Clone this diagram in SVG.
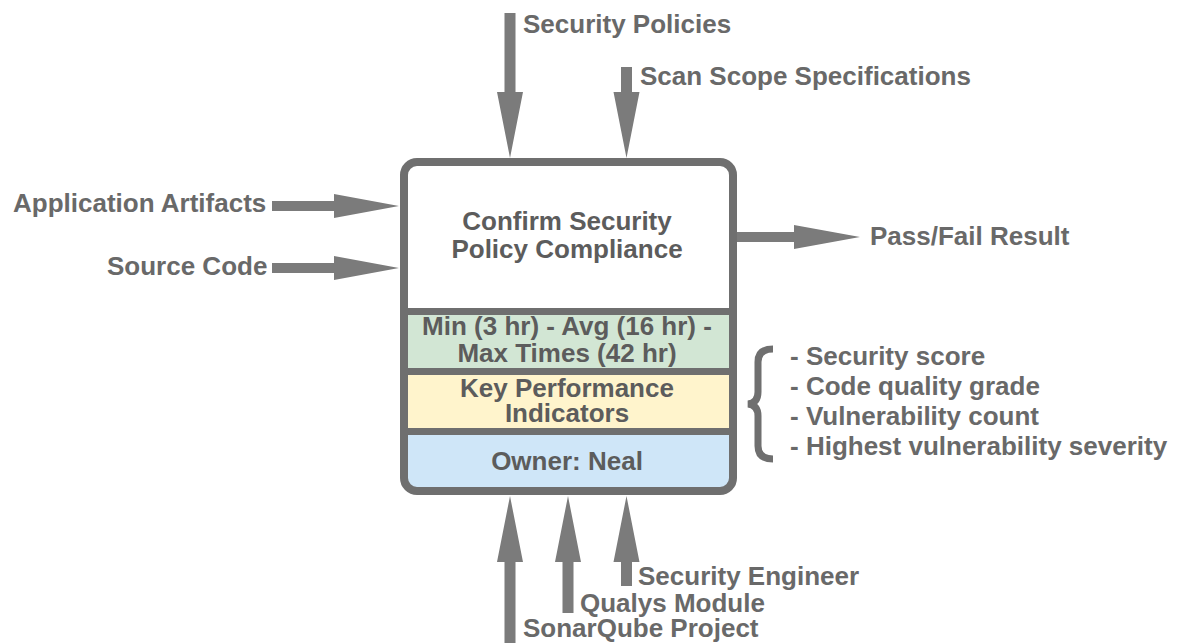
<svg xmlns="http://www.w3.org/2000/svg" width="1184" height="643" viewBox="0 0 1184 643">
<defs>
<style>
.lbl{font-family:"Liberation Sans",Arial,sans-serif;font-weight:bold;font-size:26px;fill:#696969}
.in{font-family:"Liberation Sans",Arial,sans-serif;font-weight:bold;font-size:26px;fill:#5c5c5c;text-anchor:middle}
.arr{fill:#7b7b7b}
.sep{stroke:#6f6f6f;stroke-width:7}
</style>
<clipPath id="inner"><rect x="404" y="162" width="329" height="329" rx="13"/></clipPath>
</defs>
<rect width="1184" height="643" fill="#ffffff"/>
<g id="connectors">
<polygon class="arr" points="504.5,13 515.5,13 515.5,92 523,92 510,158 497,92 504.5,92"/>
<polygon class="arr" points="621,67 632,67 632,92 639.5,92 626.5,158 613.5,92 621,92"/>
<polygon class="arr" points="272,201 334,201 334,194 399,206 334,218 334,211 272,211"/>
<polygon class="arr" points="272,263 334,263 334,256 399,268 334,280 334,273 272,273"/>
<polygon class="arr" points="737,232 794,232 794,225 860,237 794,249 794,242 737,242"/>
<polygon class="arr" points="504.5,643 515.5,643 515.5,562 523,562 510,496 497,562 504.5,562"/>
<polygon class="arr" points="562.5,613 573.5,613 573.5,562 581,562 568,496 555,562 562.5,562"/>
<polygon class="arr" points="621,586 632,586 632,562 639.5,562 626.5,496 613.5,562 621,562"/>
</g>
<g id="process">
<rect x="404" y="162" width="329" height="329" rx="13" fill="#ffffff"/>
<g clip-path="url(#inner)">
<rect x="400" y="311" width="340" height="61" fill="#d2e6d4"/>
<rect x="400" y="372" width="340" height="60" fill="#fff4cc"/>
<rect x="400" y="432" width="340" height="65" fill="#cfe6f8"/>
</g>
<line class="sep" x1="404" y1="311.5" x2="733" y2="311.5"/>
<line class="sep" x1="404" y1="371.5" x2="733" y2="371.5"/>
<line class="sep" x1="404" y1="431.5" x2="733" y2="431.5"/>
<rect x="404" y="162" width="329" height="329" rx="13" fill="none" stroke="#6f6f6f" stroke-width="8"/>
<text class="in" x="567" y="230">Confirm Security</text>
<text class="in" x="567" y="258">Policy Compliance</text>
<text class="in" x="567" y="335">Min (3 hr) - Avg (16 hr) -</text>
<text class="in" x="567" y="362">Max Times (42 hr)</text>
<text class="in" x="567" y="397">Key Performance</text>
<text class="in" x="567" y="422">Indicators</text>
<text class="in" x="567" y="470">Owner: Neal</text>
</g>
<g id="label-security-policies"><text class="lbl" x="523" y="33">Security Policies</text></g>
<g id="label-scan-scope"><text class="lbl" x="640" y="85">Scan Scope Specifications</text></g>
<g id="label-app-artifacts"><text class="lbl" x="13" y="212">Application Artifacts</text></g>
<g id="label-source-code"><text class="lbl" x="107" y="275">Source Code</text></g>
<g id="label-pass-fail"><text class="lbl" x="870" y="245">Pass/Fail Result</text></g>
<g id="kpi-list">
<path d="M773,349 Q758,349 758,362 L758,392 Q758,403 748,404 Q758,405 758,416 L758,446 Q758,459 773,459" fill="none" stroke="#6f6f6f" stroke-width="7"/>
<text class="lbl" x="790" y="365">- Security score</text>
<text class="lbl" x="790" y="395">- Code quality grade</text>
<text class="lbl" x="790" y="425">- Vulnerability count</text>
<text class="lbl" x="790" y="455">- Highest vulnerability severity</text>
</g>
<g id="label-security-engineer"><text class="lbl" x="638" y="585">Security Engineer</text></g>
<g id="label-qualys"><text class="lbl" x="580" y="612">Qualys Module</text></g>
<g id="label-sonarqube"><text class="lbl" x="523" y="637">SonarQube Project</text></g>
</svg>
